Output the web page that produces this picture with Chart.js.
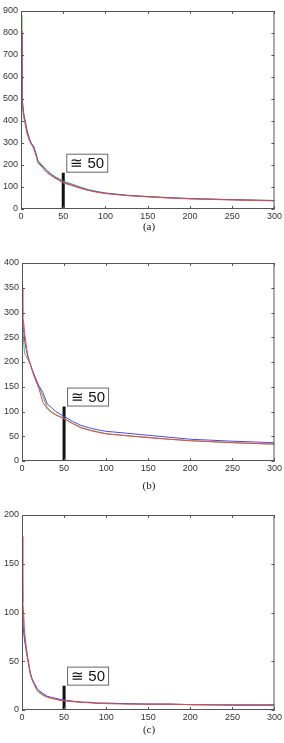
<!DOCTYPE html>
<html>
<head>
<meta charset="utf-8">
<script src="https://cdn.jsdelivr.net/npm/chart.js@4/dist/chart.umd.min.js"></script>
<style>
  body { margin: 0; background: #fff; width: 284px; height: 743px; position: relative; overflow: hidden; }
  .panel { position: absolute; left: 0; width: 284px; }
  .cap { position: absolute; left: 0; width: 298px; text-align: center; font: 11px "Liberation Serif", serif; color: #222; }
</style>
</head>
<body>
<div class="panel" style="top:0"><canvas id="chartA" width="284" height="226"></canvas></div>
<div class="cap" style="top:220px">(a)</div>
<div class="panel" style="top:252px"><canvas id="chartB" width="284" height="226"></canvas></div>
<div class="cap" style="top:479px">(b)</div>
<div class="panel" style="top:504px"><canvas id="chartC" width="284" height="223"></canvas></div>
<div class="cap" style="top:723px">(c)</div>
<script>
// shared x positions (rank)
const xs = [0, 1, 2, 3, 5, 7, 10, 12, 15, 18, 20, 25, 30, 35, 40, 45, 50, 60, 70, 80, 90, 100, 125, 150, 175, 200, 250, 300];

// panel (a)
const aBlue  = [800, 520, 480, 440, 400, 360, 320, 300, 285, 250, 215, 195, 172, 158, 145, 133, 122, 110, 97, 86, 78, 72, 62, 56, 51, 47, 42, 38];
const aGreen = [880, 500, 470, 430, 395, 350, 315, 300, 280, 245, 222, 200, 180, 162, 148, 138, 126, 114, 100, 88, 80, 73, 63, 57, 52, 48, 43, 39];
const aRed   = [810, 490, 460, 420, 385, 345, 310, 295, 275, 240, 210, 190, 168, 153, 140, 130, 118, 107, 94, 84, 76, 70, 61, 55, 50, 46, 41, 37];

// panel (b)
const bBlue  = [280, 275, 265, 245, 225, 210, 195, 185, 172, 160, 152, 138, 115, 108, 100, 95, 90, 80, 72, 67, 63, 60, 56, 52, 48, 44, 40, 37];
const bGreen = [265, 260, 240, 218, 212, 205, 195, 185, 170, 158, 150, 130, 108, 100, 94, 90, 86, 76, 68, 63, 59, 55, 51, 48, 44, 41, 37, 34];
const bRed   = [350, 290, 280, 260, 235, 212, 195, 183, 168, 155, 147, 118, 105, 98, 93, 89, 85, 76, 67, 62, 58, 55, 51, 47, 44, 41, 37, 34];

// panel (c)
const cBlue  = [95, 85, 80, 72, 62, 52, 38, 32, 27, 22, 20, 17, 14, 13, 12, 11, 10, 9, 8, 8, 7, 7, 6.5, 6, 6, 5.5, 5, 5];
const cGreen = [100, 90, 82, 74, 60, 50, 36, 31, 26, 21, 19, 16, 14, 12, 11, 10, 10, 9, 8, 7.5, 7, 7, 6.5, 6, 6, 5.5, 5, 5];
const cRed   = [178, 110, 98, 80, 65, 52, 37, 31, 25, 20, 18, 15, 13, 12, 11, 10, 9.5, 8.5, 8, 7.5, 7, 6.5, 6, 6, 6, 5.5, 5.5, 5.5];

// the "≅ 50" marker
const markX = 50;
const markTops = [165, 110, 25];
const markText = '≅ 50';

const yMax = [900, 400, 200];
const yStep = [100, 50, 50];

const tickFont = { family: '"Liberation Sans", Arial, sans-serif', size: 9 };

// box frame with inward ticks + label box
const frame = {
    id: 'frame',
    afterDatasetsDraw(chart, args, opts) {
        let ctx = chart.ctx;
        let a = chart.chartArea;
        let xs_ = chart.scales.x, ys_ = chart.scales.y;
        ctx.save();
        ctx.strokeStyle = '#555';
        ctx.lineWidth = 1;
        ctx.strokeRect(a.left + 0.5, a.top + 0.5, a.right - a.left - 1, a.bottom - a.top - 1);
        ctx.beginPath();
        xs_.ticks.forEach(t => {
            let px = Math.round(xs_.getPixelForValue(t.value)) + 0.5;
            ctx.moveTo(px, a.bottom); ctx.lineTo(px, a.bottom - 3);
            ctx.moveTo(px, a.top); ctx.lineTo(px, a.top + 3);
        });
        ys_.ticks.forEach(t => {
            let py = Math.round(ys_.getPixelForValue(t.value)) + 0.5;
            ctx.moveTo(a.left, py); ctx.lineTo(a.left + 3, py);
            ctx.moveTo(a.right, py); ctx.lineTo(a.right - 3, py);
        });
        ctx.stroke();

        // label box
        let bx = xs_.getPixelForValue(opts.markX) + 3;
        let by = ys_.getPixelForValue(opts.markTop);
        let w = 42, h = 19;
        ctx.fillStyle = '#fff';
        ctx.fillRect(bx, by - h, w, h);
        ctx.strokeStyle = '#666';
        ctx.strokeRect(bx + 0.5, by - h + 0.5, w - 1, h - 1);
        ctx.fillStyle = '#111';
        ctx.font = '15px "Liberation Sans", Arial, sans-serif';
        ctx.textAlign = 'center';
        ctx.textBaseline = 'middle';
        ctx.fillText(opts.text, bx + w / 2, by - h / 2 + 1);
        ctx.restore();
    }
};

let pts = ys => xs.map((x, i) => ({ x: x, y: ys[i] }));

// series given as [red, blue, green] so red ends up drawn on top
let makeChart = (id, series, idx, yAxisW, rightPad) => {
    let ctx = document.getElementById(id).getContext('2d');
    let colors = ['#e84a4a', '#4b4be6', '#4db84d'];
    let datasets = series.map((s, i) => ({
        data: pts(s),
        borderColor: colors[i],
        borderWidth: 1,
        pointRadius: 0,
        tension: 0
    }));
    datasets.push({
        data: [{ x: markX, y: 0 }, { x: markX, y: markTops[idx] }],
        borderColor: '#111',
        borderWidth: 3,
        pointRadius: 0
    });
    return new Chart(ctx, {
        type: 'line',
        data: { datasets: datasets },
        options: {
            responsive: false,
            animation: false,
            layout: { padding: { top: 11, right: rightPad, left: 0, bottom: 0 } },
            plugins: {
                legend: { display: false },
                tooltip: { enabled: false },
                frame: { markX: markX, markTop: markTops[idx], text: markText }
            },
            scales: {
                x: {
                    type: 'linear', min: 0, max: 300,
                    ticks: { stepSize: 50, font: tickFont, color: '#333', padding: 2, maxRotation: 0 },
                    grid: { display: false, drawTicks: false },
                    border: { display: false },
                    afterFit: s => { s.height = 17; }
                },
                y: {
                    min: 0, max: yMax[idx],
                    ticks: { stepSize: yStep[idx], font: tickFont, color: '#333', padding: 3 },
                    grid: { display: false, drawTicks: false },
                    border: { display: false },
                    afterFit: s => { s.width = yAxisW; }
                }
            }
        },
        plugins: [frame]
    });
};

makeChart('chartA', [aRed, aBlue, aGreen], 0, 21, 7);
makeChart('chartB', [bRed, bBlue, bGreen], 1, 22, 6);
makeChart('chartC', [cRed, cBlue, cGreen], 2, 22, 7);
</script>
</body>
</html>
